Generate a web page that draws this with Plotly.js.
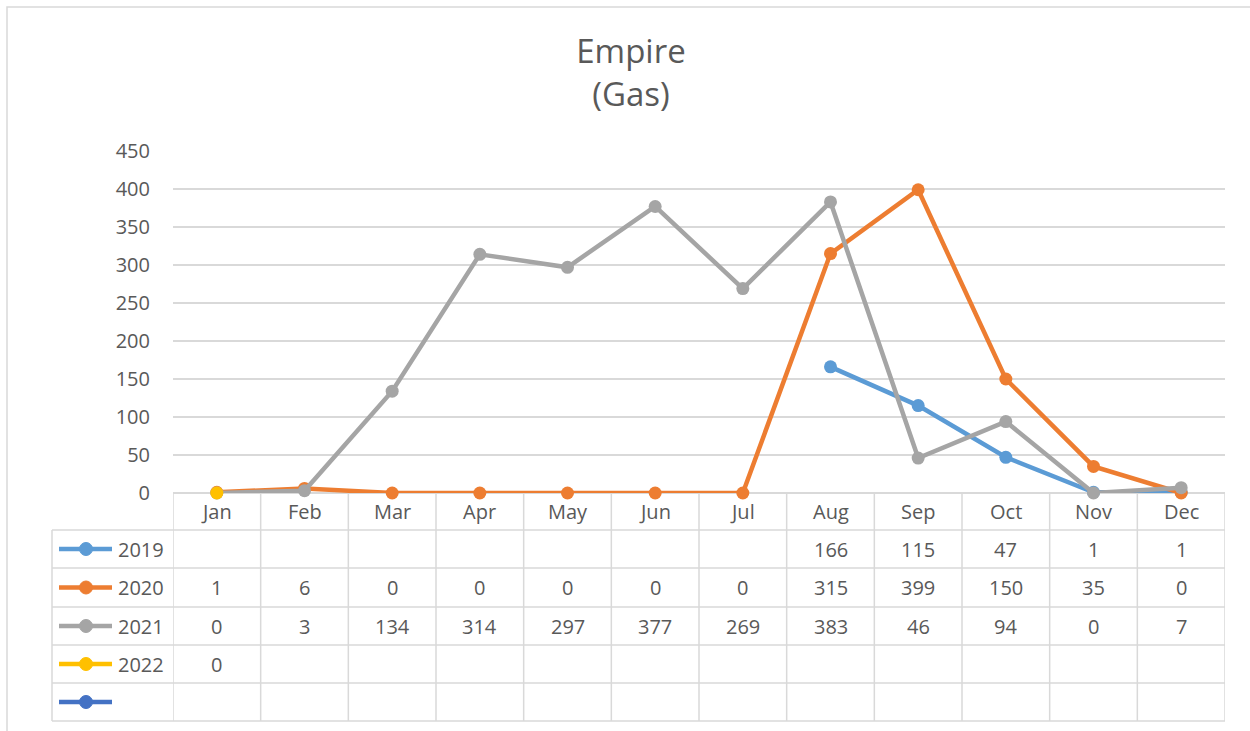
<!DOCTYPE html>
<html>
<head>
<meta charset="utf-8">
<script src="https://cdn.plot.ly/plotly-3.0.1.min.js"></script>
<style>
  html, body { margin: 0; padding: 0; background: #ffffff; }
  #chart { width: 1250px; height: 731px; }
</style>
</head>
<body>
<div id="chart"></div>
<script>
// ---- data ----
const months = ["Jan","Feb","Mar","Apr","May","Jun","Jul","Aug","Sep","Oct","Nov","Dec"];
const seriesNames = ["2019","2020","2021","2022",""];
const values2019 = [null,null,null,null,null,null,null,166,115,47,1,1];
const values2020 = [1,6,0,0,0,0,0,315,399,150,35,0];
const values2021 = [0,3,134,314,297,377,269,383,46,94,0,7];
const values2022 = [0,null,null,null,null,null,null,null,null,null,null,null];
const values5th  = [null,null,null,null,null,null,null,null,null,null,null,null];
const yTicks = [0,50,100,150,200,250,300,350,400,450];

// ---- style ----
const colors = ["#5B9BD5","#ED7D31","#A5A5A5","#FFC000","#4472C4"];
const allValues = [values2019, values2020, values2021, values2022, values5th];
const textColor = "#595959";
const gridColor = "#d9d9d9";
const fontFamily = "'Open Sans', 'Liberation Sans', sans-serif";

const W = 1250, H = 731, L = 173, R = 1225, T = 151, B = 493;
const px = x => (x - L) / (R - L);
const py = y => (B - y) / (B - T);

const rowBounds = [530, 568, 607, 645, 683, 721];
const rowCenters = rowBounds.slice(0, -1).map((v, i) => (v + rowBounds[i + 1]) / 2);

const traces = allValues.map((vals, i) => ({
  type: "scatter",
  mode: "lines+markers",
  x: months,
  y: vals,
  name: seriesNames[i],
  line: { color: colors[i], width: 4.5 },
  marker: { color: colors[i], size: 13 },
  cliponaxis: false,
  connectgaps: false,
  showlegend: false
}));

const shapes = [];
const annotations = [];

// outer chart border
shapes.push({ type: "rect", xref: "paper", yref: "paper",
  x0: px(7), x1: px(1262), y0: py(7), y1: py(745),
  line: { color: gridColor, width: 1.5 }, layer: "below" });

// table horizontal lines
rowBounds.forEach(y => shapes.push({ type: "line", xref: "paper", yref: "paper",
  x0: px(52), x1: 1, y0: py(y), y1: py(y), line: { color: gridColor, width: 1.5 } }));
// table vertical lines
for (let k = 0; k <= months.length; k++) {
  shapes.push({ type: "line", xref: "x", yref: "paper",
    x0: k - 0.5, x1: k - 0.5, y0: py(493), y1: py(721), line: { color: gridColor, width: 1.5 } });
}
shapes.push({ type: "line", xref: "paper", yref: "paper",
  x0: px(52), x1: px(52), y0: py(530), y1: py(721), line: { color: gridColor, width: 1.5 } });

// month header labels
months.forEach((m, j) => annotations.push({ xref: "x", yref: "paper", x: j, y: py(511),
  text: m, showarrow: false, xanchor: "center", yanchor: "middle",
  font: { family: fontFamily, size: 20, color: textColor } }));

// legend keys + cell values
allValues.forEach((vals, i) => {
  const yc = rowCenters[i];
  shapes.push({ type: "line", xref: "paper", yref: "paper",
    x0: px(59), x1: px(112), y0: py(yc), y1: py(yc), line: { color: colors[i], width: 4.5 } });
  shapes.push({ type: "circle", xref: "paper", yref: "paper",
    x0: px(79.5), x1: px(92.5), y0: py(yc + 6.5), y1: py(yc - 6.5),
    fillcolor: colors[i], line: { color: colors[i], width: 1 } });
  if (seriesNames[i]) {
    annotations.push({ xref: "paper", yref: "paper", x: px(116), y: py(yc),
      text: seriesNames[i], showarrow: false, xanchor: "left", yanchor: "middle",
      font: { family: fontFamily, size: 20, color: textColor } });
  }
  vals.forEach((v, j) => {
    if (v !== null) {
      annotations.push({ xref: "x", yref: "paper", x: j, y: py(yc),
        text: String(v), showarrow: false, xanchor: "center", yanchor: "middle",
        font: { family: fontFamily, size: 20, color: textColor } });
    }
  });
});

const layout = {
  width: W, height: H,
  margin: { l: L, r: W - R, t: T, b: H - B, pad: 0 },
  paper_bgcolor: "#ffffff", plot_bgcolor: "#ffffff",
  font: { family: fontFamily, color: textColor },
  title: { text: "Empire<br>(Gas)", x: 0.5 + 6 / W, xref: "container", xanchor: "center",
    y: 1 - 63 / H, yref: "container", yanchor: "top",
    font: { family: fontFamily, size: 33, color: textColor } },
  xaxis: { type: "category", range: [-0.5, 11.5], showgrid: false, zeroline: false,
    showline: false, showticklabels: false, ticks: "", fixedrange: true },
  yaxis: { range: [0, 450], tickvals: yTicks, ticktext: yTicks.map(String),
    showgrid: true, gridcolor: gridColor, gridwidth: 1.5,
    zeroline: true, zerolinecolor: gridColor, zerolinewidth: 1.5,
    showline: false, ticks: "", ticklabelstandoff: 22,
    tickfont: { family: fontFamily, size: 20, color: textColor }, fixedrange: true },
  shapes: shapes,
  annotations: annotations,
  hovermode: false
};

Plotly.newPlot("chart", traces, layout, { displayModeBar: false, staticPlot: true });
</script>
</body>
</html>
